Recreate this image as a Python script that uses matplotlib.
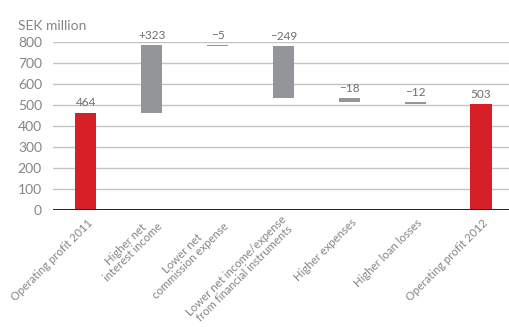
import numpy as np
import matplotlib
matplotlib.use('Agg')
from matplotlib import pyplot as plt
from matplotlib.transforms import ScaledTranslation, blended_transform_factory

# waterfall data, SEK million
categories = ['Operating profit 2011', 'Higher net\ninterest income', 'Lower net\ncommission expense',
              'Lower net income/expense\nfrom financial instruments', 'Higher expenses',
              'Higher loan losses', 'Operating profit 2012']
changes = [464, 323, -5, -249, -18, -12, 503]
value_labels = ['464', '+323', '\u22125', '\u2212249', '\u221218', '\u221212', '503']
is_total = [True, False, False, False, False, False, True]
yticks = [0, 100, 200, 300, 400, 500, 600, 700, 800]

red = '#d71f28'
grey = '#939598'
txt = '#858585'

plt.rcParams['font.family'] = ['Lato', 'DejaVu Sans']

# compute bar bottoms / heights
bottoms = []
heights = []
level = 0
for v, tot in zip(changes, is_total):
    if tot:
        bottoms.append(0)
        heights.append(v)
        level = v
    else:
        new = level + v
        bottoms.append(min(level, new))
        heights.append(abs(v))
        level = new

fig = plt.figure(figsize=(5.1, 3.27), dpi=100)
ax = fig.add_axes([53 / 510, 1 - 210 / 327, 1 - 53 / 510, 168 / 327])

x = np.arange(len(categories))
colors = [red if t else grey for t in is_total]
ax.bar(x, heights, bottom=bottoms, width=0.32, color=colors, zorder=3)

for xi, b, h, lab in zip(x, bottoms, heights, value_labels):
    ax.annotate(lab, (xi, b + h), xytext=(0, 3), textcoords='offset points',
                ha='center', va='bottom', fontsize=8.5, color='#6e6e6e')

ax.set_xlim(-0.5, 6.44)
ax.set_ylim(0, 800)
ax.set_yticks(yticks)
ax.yaxis.grid(True, color='#c4c4c4', linewidth=1, zorder=0)
ax.axhline(0, color='#222222', linewidth=1.4, zorder=4)
for s in ax.spines.values():
    s.set_visible(False)
ax.tick_params(axis='y', length=0, pad=8, labelsize=10, labelcolor=txt)
ax.set_xticks([])

# rotated category labels, right end just under each bar
trans = blended_transform_factory(ax.transData, ax.transAxes) + \
    ScaledTranslation(5 / 100, -11 / 100, fig.dpi_scale_trans)
for xi, cat in zip(x, categories):
    ax.text(xi, 0, cat, transform=trans, rotation=45, ha='right', va='center',
            rotation_mode='anchor', multialignment='center', fontsize=8.2,
            color=txt, linespacing=1.0)

ax.text(-0.077, 1.06, 'SEK million', transform=ax.transAxes, fontsize=10, color=txt,
        ha='left', va='bottom')

fig.savefig('out.png', dpi=100)
